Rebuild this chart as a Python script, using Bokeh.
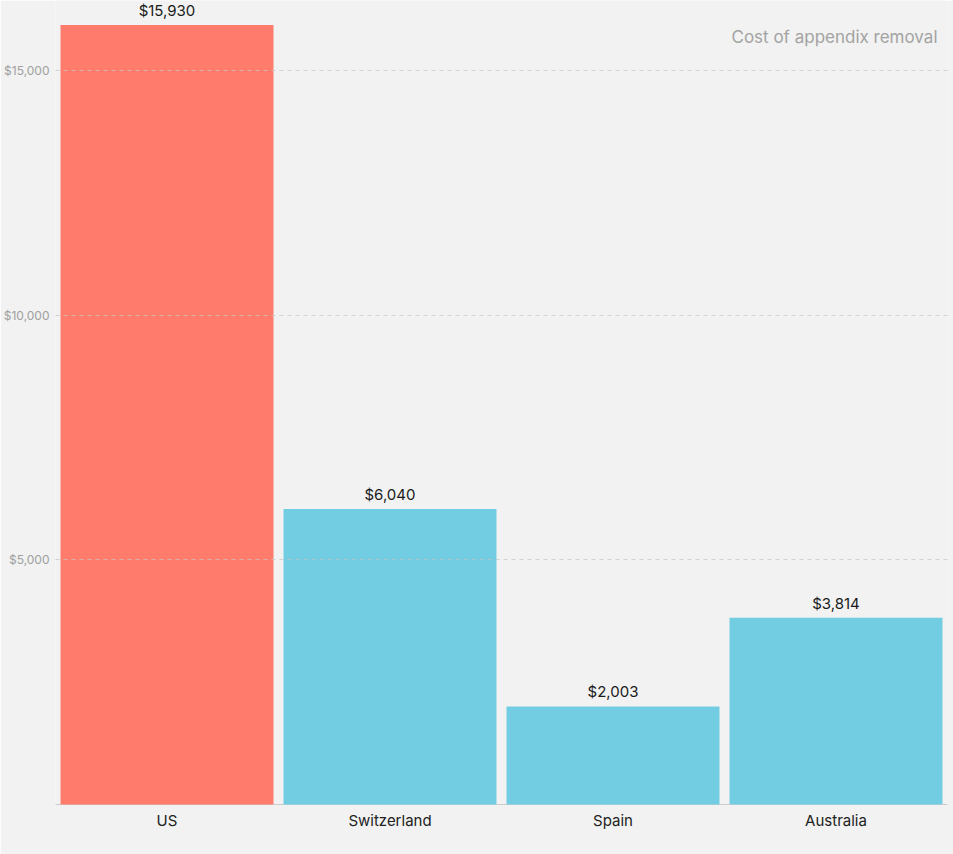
from bokeh.plotting import figure
from bokeh.models import ColumnDataSource, LabelSet, Label, Range1d, FixedTicker, NumeralTickFormatter
from bokeh.core.properties import value
from bokeh.embed import file_html
from bokeh.resources import INLINE

countries = ["US", "Switzerland", "Spain", "Australia"]
costs = [15930, 6040, 2003, 3814]
cost_labels = ["$15,930", "$6,040", "$2,003", "$3,814"]
bar_colors = ["#ff7b6c", "#72cde3", "#72cde3", "#72cde3"]
y_ticks = [0, 5000, 10000, 15000]
title_text = "Cost of appendix removal"

FONT = "Inter"
BG = "#f1f2f1"

src = ColumnDataSource(dict(x=countries, top=costs, lab=cost_labels, color=bar_colors))

p = figure(x_range=countries, y_range=Range1d(0, 16430), width=953, height=854,
           output_backend="svg", toolbar_location=None,
           min_border_left=0, min_border_right=6, min_border_top=0, min_border_bottom=50)
p.background_fill_color = BG
p.border_fill_color = BG
p.outline_line_color = None

bars = p.vbar(x="x", top="top", width=0.955, bottom=0, color="color", source=src, line_color=None)
bars.level = "annotation"

p.xgrid.visible = False
p.ygrid.grid_line_color = "#c4c4c4"
p.ygrid.grid_line_dash = "4 4"
p.ygrid.grid_line_alpha = 0.7
p.ygrid.level = "overlay"

p.yaxis.ticker = FixedTicker(ticks=y_ticks)
p.yaxis.formatter = NumeralTickFormatter(format="$0,0")
p.yaxis.major_label_overrides = {0: ""}
p.yaxis.axis_line_color = None
p.yaxis.major_tick_line_color = None
p.yaxis.minor_tick_line_color = None
p.yaxis.major_label_text_font = FONT
p.yaxis.major_label_text_font_size = "12px"
p.yaxis.major_label_text_color = "#a0a0a0"
p.yaxis.major_label_standoff = 0

p.xaxis.axis_line_color = "#cccccc"
p.xaxis.major_tick_line_color = None
p.xaxis.minor_tick_line_color = None
p.xaxis.major_label_text_font = FONT
p.xaxis.major_label_text_font_size = "15px"
p.xaxis.major_label_text_color = "#222222"
p.xaxis.major_label_standoff = 0

labels = LabelSet(x="x", y="top", text="lab", source=src, text_align="center",
                  text_baseline="bottom", y_offset=5, text_font=value(FONT),
                  text_font_size="15px", text_color="#1a1a1a")
p.add_layout(labels)

title = Label(x=4, y=15675, text=title_text, text_align="right", text_baseline="middle",
              x_offset=-10, text_font=FONT, text_font_size="17px", text_color="#a3a3a3")
p.add_layout(title)

open("out.html", "w").write(file_html(p, INLINE))
